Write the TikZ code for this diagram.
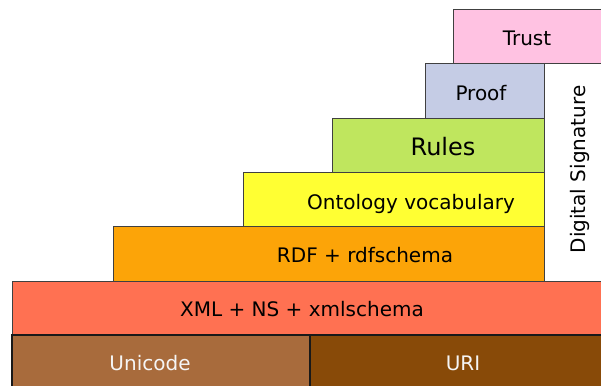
\documentclass[tikz,border=0pt]{standalone}
\usepackage{fontspec}
\setmainfont{DejaVu Sans}
\usepackage{xcolor}
\usepackage{tikz}
\definecolor{stackTrust}{HTML}{FFC2E2}
\definecolor{stackProof}{HTML}{C5CCE5}
\definecolor{stackRules}{HTML}{BFE65E}
\definecolor{stackOnto}{HTML}{FFFF33}
\definecolor{stackRdf}{HTML}{FCA408}
\definecolor{stackXml}{HTML}{FF7152}
\definecolor{stackUni}{HTML}{A86B3C}
\definecolor{stackUri}{HTML}{884A08}
\tikzset{
  layer/.style={draw=black!75, line width=1pt, anchor=north west,
        inner sep=0pt, outer sep=0pt},
  baselayer/.style={layer, draw=black!90, line width=1.3pt},
  lbl/.style={anchor=base, inner sep=0pt, font=\fontsize{20}{24}\selectfont},
  biglbl/.style={lbl, font=\fontsize{24}{28}\selectfont},
  wlbl/.style={lbl, text=white!96!black}
}

\begin{document}
\begin{tikzpicture}[x=1pt, y=-1pt]
\useasboundingbox (0,0) rectangle (601,385);

% upper layers
\node[layer, fill=stackTrust, minimum width=150pt, minimum height=54pt] (trust) at (453,10) {};
\node[layer, fill=stackProof, minimum width=119pt, minimum height=54pt] (proof) at (425,64) {};
\node[layer, fill=white, minimum width=59pt, minimum height=217pt] (dsig) at (544,64) {};
\node[layer, fill=stackRules, minimum width=212pt, minimum height=54pt] (rules) at (332,118) {};
\node[layer, fill=stackOnto, minimum width=301pt, minimum height=54pt] (onto) at (243,172) {};
\node[layer, fill=stackRdf, minimum width=431pt, minimum height=55pt] (rdf) at (113,226) {};
\node[layer, fill=stackXml, minimum width=591pt, minimum height=54pt] (xml) at (12,281) {};

% base layers
\node[baselayer, fill=stackUni, minimum width=298pt, minimum height=56pt] (uni) at (12,335) {};
\node[baselayer, fill=stackUri, minimum width=293pt, minimum height=56pt] (uri) at (310,335) {};

% labels
\node[lbl] (trusttxt) at (527,45.7) {Trust};
\node[lbl] (prooftxt) at (481,100) {Proof};
\node[biglbl] (rulestxt) at (443,155) {Rules};
\node[lbl] (ontotxt) at (411,209.5) {Ontology vocabulary};
\node[lbl] (rdftxt) at (365,262.7) {RDF + rdfschema};
\node[lbl] (xmltxt) at (302,316.7) {XML + NS + xmlschema};
\node[wlbl] (unitxt) at (150,370.7) {Unicode};
\node[wlbl] (uritxt) at (463,370.7) {URI};
\node[lbl, rotate=90] (dsigtxt) at (585,169.5) {Digital Signature};
\end{tikzpicture}
\end{document}
